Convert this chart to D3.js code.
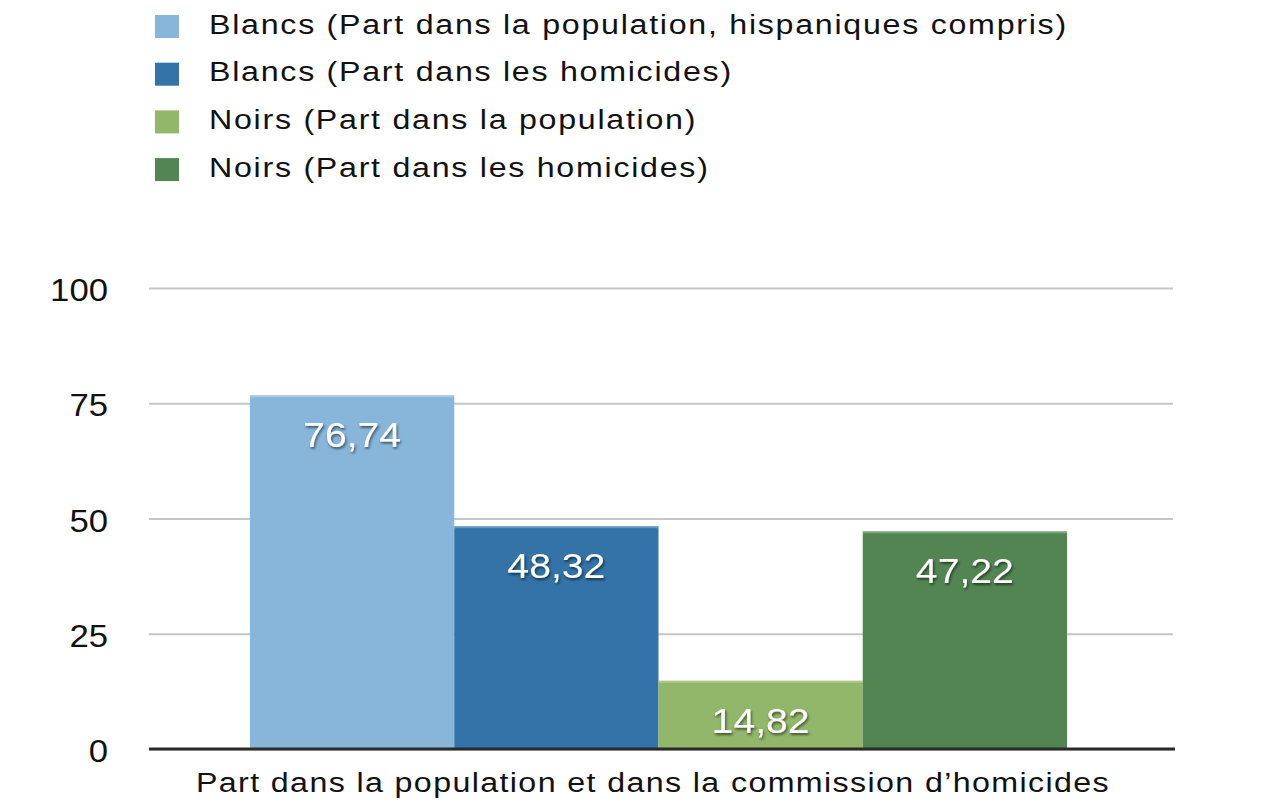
<!DOCTYPE html>
<html><head><meta charset="utf-8">
<script src="https://cdn.jsdelivr.net/npm/d3@7"></script>
<style>body{margin:0;background:#fff;} svg{display:block;font-family:"Liberation Sans",Arial,Helvetica,sans-serif;}</style>
</head><body>
<svg id="c" width="1272" height="806"></svg>
<script>
const seriesNames = [
  "Blancs (Part dans la population, hispaniques compris)",
  "Blancs (Part dans les homicides)",
  "Noirs (Part dans la population)",
  "Noirs (Part dans les homicides)"
];
const seriesValues = [76.74, 48.32, 14.82, 47.22];
const seriesColors = ["#88b6db", "#3373a7", "#92b76a", "#538553"];
const category = "Part dans la population et dans la commission d\u2019homicides";
const yTicks = [0, 25, 50, 75, 100];

const SX = 1.15; // horizontal stretch of text, as in reference
const svg = d3.select("#c");
const defs = svg.append("defs");
const f = defs.append("filter").attr("id","sh").attr("x","-20%").attr("y","-30%").attr("width","140%").attr("height","160%");
f.append("feDropShadow").attr("dx",1).attr("dy",2).attr("stdDeviation",1.2).attr("flood-color","#000").attr("flood-opacity",0.55);

function stext(parent, x, y, str, opts) {
  const g = parent.append("g").attr("transform", `translate(${x},${y}) scale(${opts.sx || SX},1)`);
  const t = g.append("text").attr("x",0).attr("y",0)
    .attr("text-anchor", opts.anchor || "start")
    .attr("font-size", opts.size)
    .attr("fill", opts.fill || "#111")
    .attr("letter-spacing", opts.ls || 0)
    .text(str);
  if (opts.filter) t.attr("filter", opts.filter);
  return t;
}

const left = 149, right = 1173, y0 = 749, y100 = 288;
const y = d3.scaleLinear().domain([0,100]).range([y0, y100]);
const x = d3.scaleBand().domain(seriesNames).range([250, 1067]).paddingInner(0).paddingOuter(0);

// gridlines
const yAxis = d3.axisLeft(y).tickValues(yTicks).tickSize(-(right-left)).tickFormat("");
const ga = svg.append("g").attr("transform",`translate(${left},0)`).call(yAxis);
ga.select(".domain").remove();
ga.selectAll(".tick line").attr("stroke","#c6c6c6").attr("stroke-width",2);
// tick labels
const tl = svg.append("g");
yTicks.forEach(v => stext(tl, 108, y(v)+13, d3.format("d")(v), {anchor:"end", size:31, sx:1.12}));

// bars
svg.append("g").selectAll("rect").data(seriesValues).join("rect")
  .attr("x",(d,i)=>x(seriesNames[i]))
  .attr("y",d=>y(d))
  .attr("width",x.bandwidth())
  .attr("height",d=>y0-y(d))
  .attr("fill",(d,i)=>seriesColors[i]);
svg.append("g").selectAll("rect").data(seriesValues).join("rect")
  .attr("x",(d,i)=>x(seriesNames[i]))
  .attr("y",d=>y(d))
  .attr("width",x.bandwidth())
  .attr("height",2)
  .attr("fill","#fff").attr("opacity",0.25);

// value labels
const vl = svg.append("g");
seriesValues.forEach((d,i) => stext(vl, x(seriesNames[i]) + x.bandwidth()/2, y(d)+52,
  d3.format(".2f")(d).replace(".",","), {anchor:"middle", size:35, fill:"#fff", filter:"url(#sh)", sx:1.12}));

// baseline
svg.append("line").attr("x1",left).attr("x2",right+2).attr("y1",y0).attr("y2",y0)
  .attr("stroke","#2a2a2a").attr("stroke-width",3);

// x category label
stext(svg, 653, 792, category, {anchor:"middle", size:28, ls:1.2});

// legend
const lg = svg.append("g");
seriesNames.forEach((name,i) => {
  const yy = 15 + i*47.7;
  lg.append("rect").attr("x",155).attr("y",yy).attr("width",24).attr("height",23).attr("fill",seriesColors[i]);
  stext(lg, 209, yy+18.5, name, {size:28, ls:1.5});
});
</script>
</body></html>
